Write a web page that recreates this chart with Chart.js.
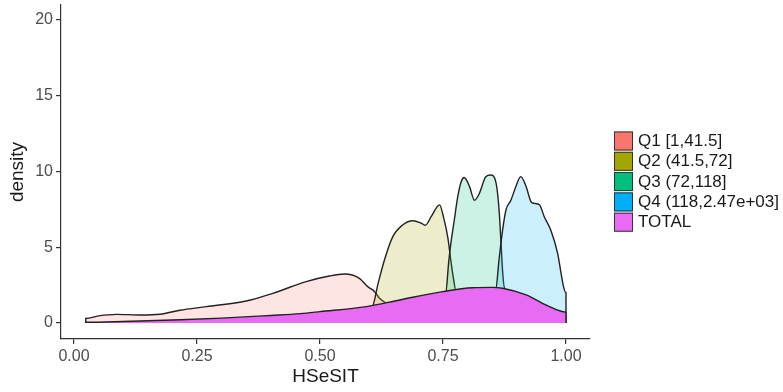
<!DOCTYPE html>
<html>
<head>
<meta charset="utf-8">
<script src="https://cdn.jsdelivr.net/npm/chart.js@4"></script>
<style>
  html, body { margin: 0; padding: 0; background: #fff; }
  #wrap { width: 783px; height: 392px; }
</style>
</head>
<body>
<div id="wrap"><canvas id="chart" width="783" height="392"></canvas></div>
<script>
// legend entries and ggplot default hues
const groupNames = ['Q1 [1,41.5]', 'Q2 (41.5,72]', 'Q3 (72,118]', 'Q4 (118,2.47e+03]', 'TOTAL'];
const groupColors = ['#F8766D', '#A3A500', '#00BF7D', '#00B0F6', '#E76BF3'];

const xTicks = [0, 0.25, 0.5, 0.75, 1];
const yTicks = [0, 5, 10, 15, 20];

// density curves (HSeSIT, density)
const q1X = [0.024, 0.024, 0.05, 0.087, 0.134, 0.175, 0.215, 0.269, 0.35, 0.404, 0.472, 0.519, 0.55, 0.58, 0.597, 0.611, 0.621, 0.635, 0.642, 0.642];
const q1Y = [0, 0.3, 0.47, 0.57, 0.53, 0.58, 0.84, 1.08, 1.45, 1.96, 2.73, 3.1, 3.23, 2.95, 2.4, 2.07, 1.63, 1.3, 1.15, 0];

const q2X = [0.606, 0.606, 0.618, 0.631, 0.648, 0.668, 0.689, 0.705, 0.714, 0.726, 0.743, 0.751, 0.76, 0.766, 0.771, 0.776, 0.776];
const q2Y = [0, 1.1, 2.6, 4.16, 5.7, 6.47, 6.75, 6.6, 6.45, 7.02, 7.8, 7.0, 5.6, 4.1, 3.0, 2.2, 0];

const q3X = [0.755, 0.755, 0.762, 0.766, 0.773, 0.78, 0.787, 0.793, 0.804, 0.814, 0.824, 0.837, 0.847, 0.858, 0.864, 0.868, 0.871, 0.875, 0.875];
const q3Y = [0, 1.9, 4.16, 5.26, 6.8, 8.34, 9.33, 9.6, 9.0, 8.1, 8.56, 9.66, 9.77, 9.22, 7.46, 5.26, 3.5, 2.3, 0];

const q4X = [0.857, 0.857, 0.864, 0.871, 0.878, 0.888, 0.898, 0.908, 0.919, 0.929, 0.935, 0.946, 0.956, 0.969, 0.983, 0.99, 0.995, 1.0, 1.0];
const q4Y = [0, 2.2, 4.2, 6.1, 7.46, 8.1, 9.0, 9.66, 9.0, 8.0, 7.9, 7.8, 7.0, 6.14, 4.6, 3.28, 2.4, 2.0, 0];

const totalX = [0.024, 0.024, 0.1, 0.2, 0.3, 0.4, 0.46, 0.5, 0.594, 0.662, 0.749, 0.81, 0.85, 0.871, 0.919, 0.959, 1.0, 1.0];
const totalY = [0, 0.05, 0.1, 0.2, 0.32, 0.5, 0.62, 0.75, 1.08, 1.52, 2.07, 2.33, 2.35, 2.29, 1.85, 1.19, 0.72, 0];

const seriesX = [q1X, q2X, q3X, q4X, totalX];
const seriesY = [q1Y, q2Y, q3Y, q4Y, totalY];

function hexA(hex, a) {
    const n = parseInt(hex.slice(1), 16);
    return `rgba(${(n >> 16) & 255},${(n >> 8) & 255},${n & 255},${a})`;
}

const datasets = groupNames.map((name, i) => ({
    label: name,
    data: seriesX[i].map((x, j) => ({ x, y: seriesY[i][j] })),
    backgroundColor: i === 4 ? groupColors[i] : hexA(groupColors[i], 0.2),
    borderColor: '#222',
    borderWidth: 1.4,
    fill: 'origin',
    pointRadius: 0,
    cubicInterpolationMode: 'monotone',
    order: 5 - i
}));

// ggplot-style legend on the right
const sideLegend = {
    id: 'sideLegend',
    afterDraw(chart) {
        const ctx = chart.ctx;
        ctx.save();
        ctx.font = '17px "Liberation Sans", Arial, sans-serif';
        ctx.textBaseline = 'middle';
        ctx.textAlign = 'left';
        groupNames.forEach((name, i) => {
            const top = 131.5 + i * 20.3;
            ctx.fillStyle = groupColors[i];
            ctx.fillRect(614, top, 19, 19);
            ctx.strokeStyle = '#333';
            ctx.lineWidth = 1;
            ctx.strokeRect(614.5, top + 0.5, 18, 18);
            ctx.fillStyle = '#1a1a1a';
            ctx.fillText(name, 638, top + 10);
        });
        ctx.restore();
    }
};

const tickFont = { family: '"Liberation Sans", Arial, sans-serif', size: 16 };
const titleFont = { family: '"Liberation Sans", Arial, sans-serif', size: 19 };

new Chart(document.getElementById('chart'), {
    type: 'line',
    data: { datasets },
    plugins: [sideLegend],
    options: {
        responsive: false,
        animation: false,
        layout: { padding: { left: 0, right: 193, top: 5, bottom: 0 } },
        plugins: { legend: { display: false }, tooltip: { enabled: false } },
        scales: {
            x: {
                type: 'linear',
                min: -0.0264,
                max: 1.0488,
                afterBuildTicks: s => { s.ticks = xTicks.map(v => ({ value: v })); },
                afterFit: s => { s.height = 53; s.paddingLeft = 0; s.paddingRight = 0; },
                ticks: { callback: v => Number(v).toFixed(2), color: '#4d4d4d', font: tickFont, padding: 3, maxRotation: 0 },
                grid: { display: true, drawOnChartArea: false, drawTicks: true, tickLength: 5, color: '#333', lineWidth: 1.2 },
                border: { display: true, color: '#333', width: 1.2 },
                title: { display: true, text: 'HSeSIT', color: '#1a1a1a', font: titleFont, padding: { top: 0, bottom: 3.6 } }
            },
            y: {
                type: 'linear',
                min: -1.056,
                max: 20.99,
                afterBuildTicks: s => { s.ticks = yTicks.map(v => ({ value: v })); },
                afterFit: s => { s.width = 61; s.paddingTop = 0; s.paddingBottom = 0; },
                ticks: { callback: v => String(v), color: '#4d4d4d', font: tickFont, padding: 3 },
                grid: { display: true, drawOnChartArea: false, drawTicks: true, tickLength: 5, color: '#333', lineWidth: 1.2 },
                border: { display: true, color: '#333', width: 1.2 },
                title: { display: true, text: 'density', color: '#1a1a1a', font: titleFont, padding: { top: 6.6, bottom: 0 } }
            }
        }
    }
});
</script>
</body>
</html>
